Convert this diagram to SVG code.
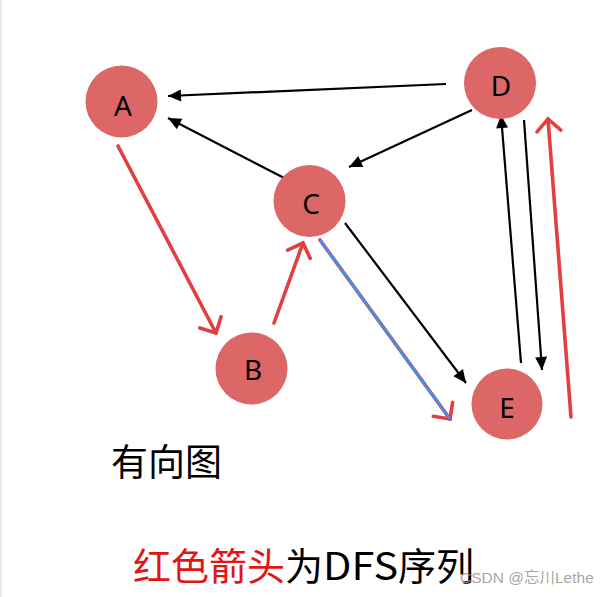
<svg xmlns="http://www.w3.org/2000/svg" width="611" height="597" viewBox="0 0 611 597">
<style>
.node circle{fill:#dd6666}
.node text{font-family:"Noto Sans","Liberation Sans",sans-serif;font-size:28px;fill:#000;text-anchor:middle}
.blk{stroke:#000;stroke-width:2.2;fill:none;marker-end:url(#ah)}
.red{stroke:#e23f3f;stroke-width:3.6;fill:none;marker-end:url(#rh);stroke-linecap:round}
.cap{font-family:"Noto Sans CJK SC","Noto Sans",sans-serif}
</style>
<defs>
<marker id="ah" markerUnits="userSpaceOnUse" viewBox="-14 -7 16 14" refX="0" refY="0" markerWidth="16" markerHeight="14" orient="auto" overflow="visible">
<path d="M-13,-6 L0,0 L-13,6 Z" fill="#000"/>
</marker>
<marker id="rh" markerUnits="userSpaceOnUse" viewBox="-15 -15 17 30" refX="0" refY="0" markerWidth="17" markerHeight="30" orient="auto" overflow="visible">
<path d="M-12,-12 L0,0 L-12,12" fill="none" stroke="#e23f3f" stroke-width="3.6" stroke-linecap="round" stroke-linejoin="miter"/>
</marker>
<filter id="soft" x="-10%" y="-10%" width="120%" height="120%"><feGaussianBlur stdDeviation="0.6"/></filter>
</defs>
<rect x="0" y="0" width="611" height="597" fill="#fff"/>
<rect x="0" y="0" width="1.5" height="597" fill="#e6e6e6"/>
<g id="connectors">
<line class="blk" x1="446" y1="84" x2="168" y2="96"/>
<line class="blk" x1="290" y1="181" x2="168" y2="118"/>
<line class="blk" x1="472" y1="110" x2="349" y2="167"/>
<line class="blk" x1="345" y1="223" x2="466" y2="383"/>
<line class="blk" x1="521" y1="363" x2="501" y2="115"/>
<line class="blk" x1="524" y1="120" x2="542" y2="370"/>
<g filter="url(#soft)">
<line class="red" x1="118" y1="146" x2="216" y2="333"/>
<line class="red" x1="274" y1="323" x2="303" y2="243"/>
<line class="red" x1="320" y1="240" x2="450" y2="419" stroke-width="5.5"/>
<line class="red" x1="571" y1="417" x2="548" y2="119"/>
</g>
<line x1="320" y1="240" x2="450" y2="419" stroke="#3d92ea" stroke-width="2.6"/>
</g>
<g id="A" class="node"><circle cx="121.5" cy="101.5" r="36"/><text x="123" y="116">A</text></g>
<g id="B" class="node"><circle cx="251.5" cy="368.5" r="36"/><text x="253" y="380">B</text></g>
<g id="C" class="node"><circle cx="309.5" cy="201" r="36"/><text x="311" y="214">C</text></g>
<g id="D" class="node"><circle cx="500" cy="83" r="36"/><text x="501" y="96">D</text></g>
<g id="E" class="node"><circle cx="507" cy="404" r="35.5"/><text x="507" y="418">E</text></g>
<text class="cap" x="111" y="476" font-size="37" fill="#000">有向图</text>
<text class="cap" y="580" font-size="38"><tspan x="133" fill="#e31414">红色箭头</tspan><tspan fill="#000">为</tspan><tspan fill="#000" textLength="75" lengthAdjust="spacingAndGlyphs">DFS</tspan><tspan fill="#000">序列</tspan></text>
<text x="460" y="583" font-family="'Liberation Sans','Noto Sans CJK SC',sans-serif" font-size="15.5" fill="#9a9a9a" fill-opacity="0.9">CSDN @忘川Lethe</text>
</svg>
